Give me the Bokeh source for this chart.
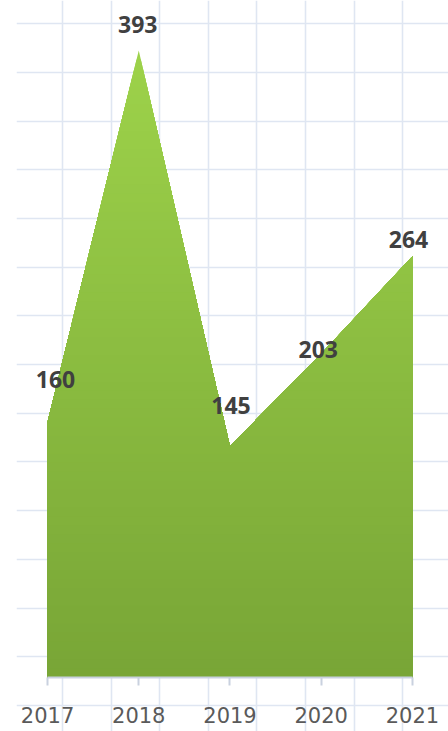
import numpy as np
from bokeh.plotting import figure
from bokeh.models import Range1d, Grid, SingleIntervalTicker, FixedTicker, ColumnDataSource
from bokeh.core.properties import value
from bokeh.embed import file_html
from bokeh.resources import INLINE

# ---- data ----
years = [2017, 2018, 2019, 2020, 2021]
counts = [160, 393, 145, 203, 264]
labels = ["160", "393", "145", "203", "264"]

# ---- styles ----
label_dx = [8, -1, 1, -3, -4]
label_dy = [-43, -26, -41, -4, -17]
top_color = (157, 210, 74)
bottom_color = (120, 165, 54)
grid_color = "#dfe6f2"

p = figure(width=448, height=731, output_backend="svg", toolbar_location=None,
           x_range=Range1d(2016.66, 2021.395), y_range=Range1d(-33.85, 424.34),
           min_border_left=16, min_border_right=0, min_border_top=0, min_border_bottom=0)
p.outline_line_color = None
p.background_fill_color = "white"
p.xgrid.visible = False
p.ygrid.visible = False
p.yaxis.visible = False

# graph-paper grid on its own ranges (one unit = one cell)
p.extra_x_ranges = {"gx": Range1d(-0.9465, 7.942)}
p.extra_y_ranges = {"gy": Range1d(-0.534, 14.476)}
p.add_layout(Grid(dimension=0, ticker=SingleIntervalTicker(interval=1), x_range_name="gx",
                  grid_line_color=grid_color, grid_line_width=1.6))
p.add_layout(Grid(dimension=1, ticker=SingleIntervalTicker(interval=1), y_range_name="gy",
                  grid_line_color=grid_color, grid_line_width=1.6))

# gradient area: overlapping areas clipped at decreasing heights
xs_d = np.array(years, dtype=float)
ys_d = np.array(counts, dtype=float)
ymax = ys_d.max()
n = 70
levels = np.linspace(ymax, 0, n + 1)[:-1]

def clipped(h):
    pts_x = list(xs_d)
    for i in range(len(xs_d) - 1):
        y0, y1 = ys_d[i], ys_d[i + 1]
        if (y0 - h) * (y1 - h) < 0:
            t = (h - y0) / (y1 - y0)
            pts_x.append(xs_d[i] + t * (xs_d[i + 1] - xs_d[i]))
    pts_x = np.array(sorted(pts_x))
    pts_y = np.minimum(np.interp(pts_x, xs_d, ys_d), h)
    return pts_x, pts_y

for h in levels:
    f = h / ymax
    c = tuple(int(round(bottom_color[k] + (top_color[k] - bottom_color[k]) * f)) for k in range(3))
    cx, cy = clipped(h)
    p.varea(x=cx, y1=np.zeros_like(cy), y2=cy, fill_color="#%02x%02x%02x" % c)

# x axis drawn at y = 0
ax = p.xaxis[0]
ax.fixed_location = 0
ax.bounds = (years[0], years[-1])
ax.ticker = FixedTicker(ticks=years)
ax.axis_line_color = "#c9d1df"
ax.axis_line_width = 2
ax.major_tick_line_color = "#c9d1df"
ax.major_tick_line_width = 2
ax.major_tick_out = 8
ax.major_tick_in = 0
ax.minor_tick_line_color = None
ax.major_label_standoff = 22
ax.major_label_text_font = "DejaVu Sans"
ax.major_label_text_font_size = "21px"
ax.major_label_text_color = "#5a5a5a"

src = ColumnDataSource(dict(x=years, y=counts, t=labels, dx=label_dx, dy=label_dy))
p.text(x="x", y="y", text="t", source=src, x_offset="dx", y_offset="dy",
       text_font=value("Open Sans"), text_font_style="bold", text_font_size="23px",
       text_color="#404040", text_align="center", text_baseline="middle")

open("out.html", "w").write(file_html(p, INLINE))
